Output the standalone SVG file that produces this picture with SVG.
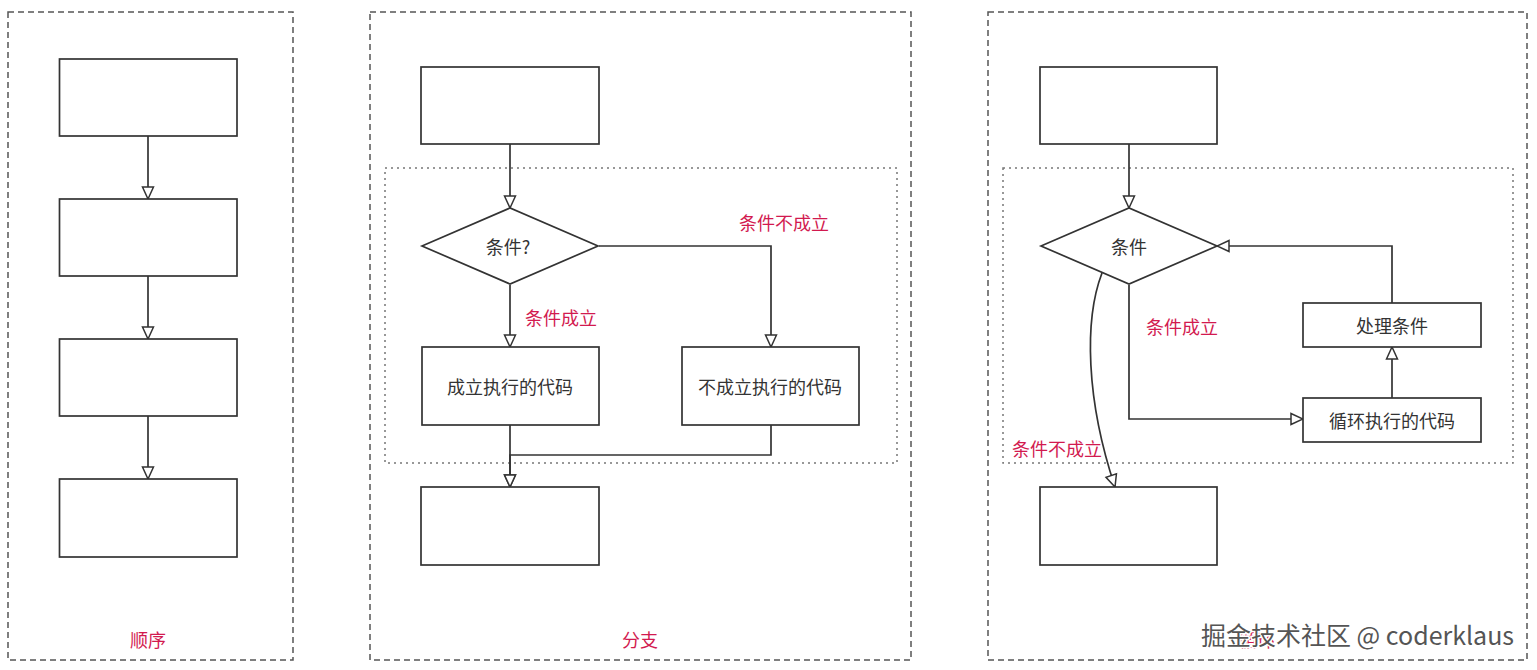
<svg xmlns="http://www.w3.org/2000/svg" width="1537" height="670" viewBox="0 0 1537 670">
<style>
.panel{fill:none;stroke:#555;stroke-width:1.5;stroke-dasharray:6 4}
.group{fill:none;stroke:#777;stroke-width:1.5;stroke-dasharray:2 4}
.box{fill:#fff;stroke:#333;stroke-width:1.7}
.edge{fill:none;stroke:#333;stroke-width:1.7}
.t{font-family:"Noto Sans CJK SC","Liberation Sans",sans-serif;font-size:18px;fill:#333;text-anchor:middle;dominant-baseline:central}
.r{font-family:"Noto Sans CJK SC","Liberation Sans",sans-serif;font-size:18px;fill:#d21a4f;text-anchor:middle;dominant-baseline:central}
.wm{font-family:"Noto Sans CJK SC","Liberation Sans",sans-serif;font-size:25px;fill:#555;stroke:#fff;stroke-width:3;paint-order:stroke;text-anchor:start}
</style>
<defs>
<marker id="arr" markerUnits="userSpaceOnUse" markerWidth="14" markerHeight="14" viewBox="0 0 14 14" refX="13" refY="7" orient="auto">
<path d="M1,1.5 L13,7 L1,12.5 Z" fill="#fff" stroke="#333" stroke-width="1.5"/>
</marker>
</defs>

<g id="panels">
<rect class="panel" x="8" y="12" width="285" height="648"/>
<rect class="panel" x="370" y="12" width="541" height="648"/>
<rect class="panel" x="988" y="12" width="539" height="648"/>
<rect class="group" x="385" y="168" width="512" height="295"/>
<rect class="group" x="1003" y="168" width="510" height="295"/>
</g>

<g id="connectors">
<path class="edge" d="M148,136 V199" marker-end="url(#arr)"/>
<path class="edge" d="M148,276 V339" marker-end="url(#arr)"/>
<path class="edge" d="M148,416 V479" marker-end="url(#arr)"/>

<path class="edge" d="M510,144 V208" marker-end="url(#arr)"/>
<path class="edge" d="M510,285 V347" marker-end="url(#arr)"/>
<path class="edge" d="M599,246 H771 V347" marker-end="url(#arr)"/>
<path class="edge" d="M510,425 V487" marker-end="url(#arr)"/>
<path class="edge" d="M771,425 V455 H510 V487" marker-end="url(#arr)"/>

<path class="edge" d="M1129,144 V208" marker-end="url(#arr)"/>
<path class="edge" d="M1129,285 V419 H1303" marker-end="url(#arr)"/>
<path class="edge" d="M1392,398 V347" marker-end="url(#arr)"/>
<path class="edge" d="M1392,303 V246 H1217" marker-end="url(#arr)"/>
<path class="edge" d="M1102,273 C1084,320 1086,400 1115,487" marker-end="url(#arr)"/>
</g>

<g id="n1a"><rect class="box" x="59.5" y="59" width="177.5" height="77"/></g>
<g id="n1b"><rect class="box" x="59.5" y="199" width="177.5" height="77"/></g>
<g id="n1c"><rect class="box" x="59.5" y="339" width="177.5" height="77"/></g>
<g id="n1d"><rect class="box" x="59.5" y="479" width="177.5" height="78"/></g>

<g id="n2top"><rect class="box" x="421" y="67" width="178" height="77"/></g>
<g id="n2cond"><path class="box" d="M422,246 L510,208 L598,246 L510,284 Z"/><text class="t" x="508" y="246">条件?</text></g>
<g id="n2yes"><rect class="box" x="422" y="347" width="177" height="78"/><text class="t" x="510" y="386">成立执行的代码</text></g>
<g id="n2no"><rect class="box" x="682" y="347" width="177" height="78"/><text class="t" x="770" y="386">不成立执行的代码</text></g>
<g id="n2bot"><rect class="box" x="421" y="487" width="178" height="78"/></g>

<g id="n3top"><rect class="box" x="1040" y="67" width="177" height="77"/></g>
<g id="n3cond"><path class="box" d="M1041,246 L1129,208 L1217,246 L1129,284 Z"/><text class="t" x="1129" y="246">条件</text></g>
<g id="n3proc"><rect class="box" x="1303" y="303" width="178" height="44"/><text class="t" x="1392" y="325">处理条件</text></g>
<g id="n3loop"><rect class="box" x="1303" y="398" width="178" height="44"/><text class="t" x="1392" y="420">循环执行的代码</text></g>
<g id="n3bot"><rect class="box" x="1040" y="487" width="177" height="78"/></g>

<g id="labels">
<text class="r" x="148" y="639">顺序</text>
<text class="r" x="640" y="639">分支</text>
<text class="r" x="1257" y="639">循环</text>
<text class="r" x="561" y="317">条件成立</text>
<text class="r" x="784" y="222">条件不成立</text>
<text class="r" x="1182" y="326">条件成立</text>
<text class="r" x="1057" y="448">条件不成立</text>
<text class="wm" x="1201" y="645">掘金技术社区 @ coderklaus</text>
</g>
</svg>
